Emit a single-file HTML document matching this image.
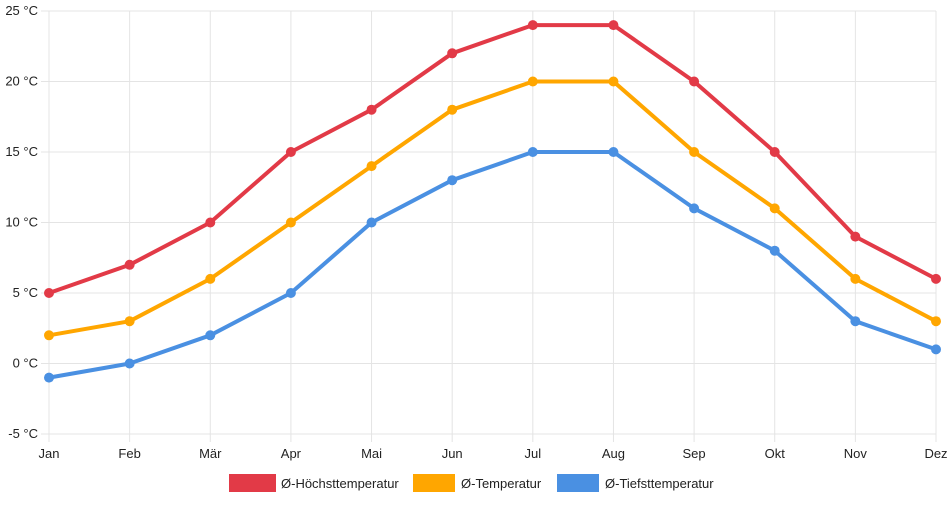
<!DOCTYPE html>
<html><head><meta charset="utf-8"><style>
body{margin:0;background:#fff;font-family:"Liberation Sans",sans-serif;}
svg text{font-family:"Liberation Sans",sans-serif;font-size:13px;fill:#222;}
</style></head><body>
<svg id="chart" width="952" height="500" xmlns="http://www.w3.org/2000/svg">
<g id="grid"></g>
<g id="axes"></g>
<g id="series"></g>
<g id="legend"></g>
</svg>
<script>
const months=["Jan","Feb","Mär","Apr","Mai","Jun","Jul","Aug","Sep","Okt","Nov","Dez"];
const highTemps=[5,7,10,15,18,22,24,24,20,15,9,6];
const meanTemps=[2,3,6,10,14,18,20,20,15,11,6,3];
const lowTemps=[-1,0,2,5,10,13,15,15,11,8,3,1];
const yTicks=[-5,0,5,10,15,20,25];
const seriesNames=["Ø-Höchsttemperatur","Ø-Temperatur","Ø-Tiefsttemperatur"];
const NS="http://www.w3.org/2000/svg";
const x0=49,x1=936,yTop=11,yBot=434,vMin=-5,vMax=25;
const xs=i=>x0+(x1-x0)*i/(months.length-1);
const ys=v=>yBot-(v-vMin)*(yBot-yTop)/(vMax-vMin);
function mk(t,a,p){const e=document.createElementNS(NS,t);for(const k in a)e.setAttribute(k,a[k]);p.appendChild(e);return e;}
const grid=document.getElementById('grid'),axes=document.getElementById('axes'),ser=document.getElementById('series'),leg=document.getElementById('legend');
yTicks.forEach(v=>{
 const l=mk('line',{x1:x0-8,x2:x1,y1:ys(v),y2:ys(v),stroke:'#e4e4e4','stroke-width':1},grid);
 
 
 const t=mk('text',{x:38,y:ys(v)+4,'text-anchor':'end'},axes);t.textContent=v+' °C';
 
 
});
months.forEach((m,i)=>{
 const l=mk('line',{x1:xs(i),x2:xs(i),y1:yTop,y2:yBot+8,stroke:'#e4e4e4','stroke-width':1},grid);
 
 
 const t=mk('text',{x:xs(i),y:458,'text-anchor':'middle'},axes);t.textContent=m;
 
 
});
const all=[[highTemps,'#e23a47','high-temp'],[meanTemps,'#ffa600','mean-temp'],[lowTemps,'#4a90e2','low-temp']];
all.forEach(([d,c,n])=>{
 const p=mk('polyline',{points:d.map((v,i)=>xs(i)+','+ys(v)).join(' '),fill:'none',stroke:c,'stroke-width':4,'stroke-linejoin':'round'},ser);
 
 
 d.forEach((v,i)=>{const c2=mk('circle',{cx:xs(i),cy:ys(v),r:5,fill:c},ser);
 
 });
});
const legX=[229,413,557],legW=[47,42,42],txtX=[281,461,605];
all.forEach(([d,c,n],k)=>{
 const r=mk('rect',{x:legX[k],y:474,width:legW[k],height:18,fill:c},leg);
 
 
 const t=mk('text',{x:txtX[k],y:488},leg);t.textContent=seriesNames[k];
 
 
});
</script>
</body></html>
